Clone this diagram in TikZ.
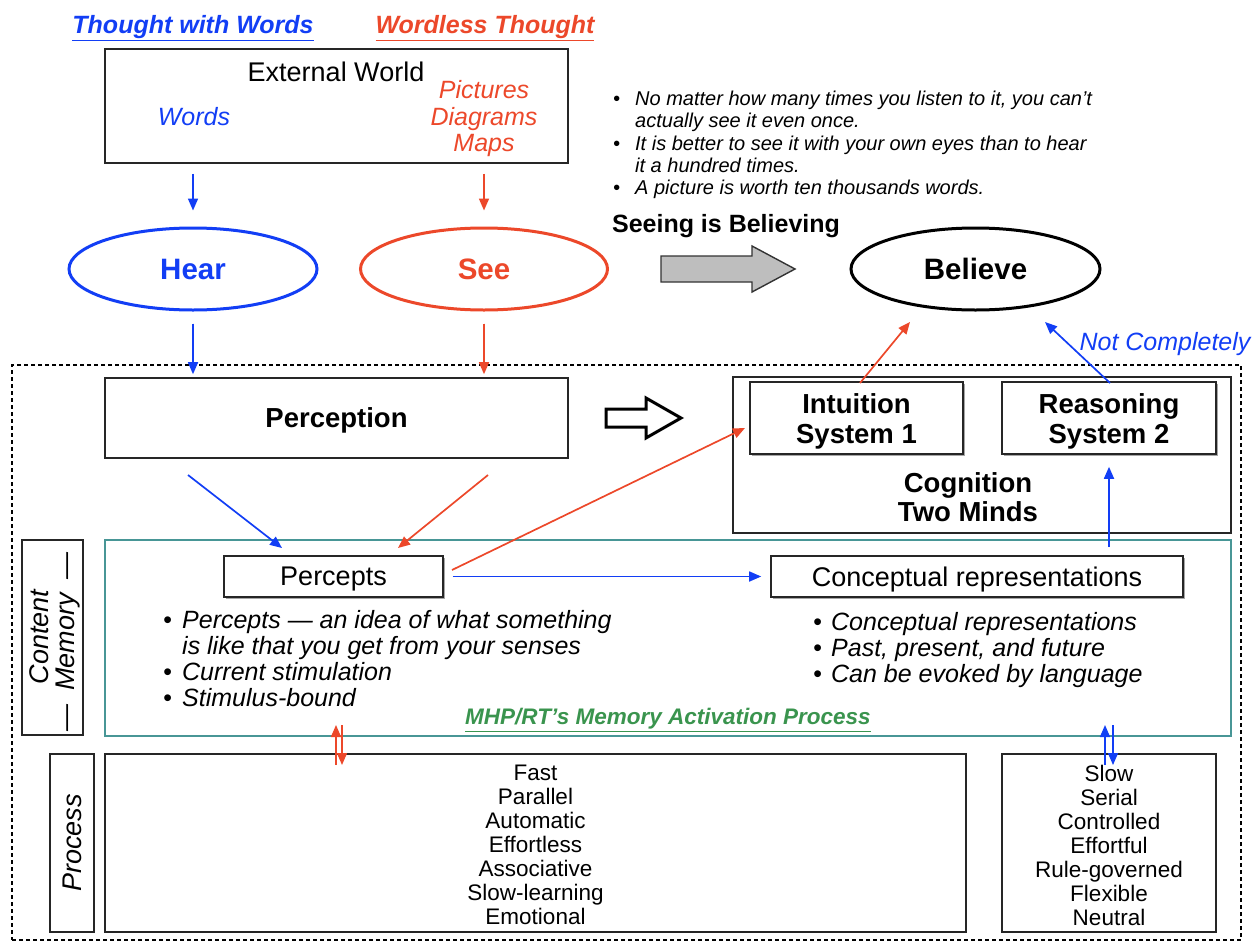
\documentclass[tikz,border=0pt]{standalone}
\usepackage{fontspec}
\setmainfont{Liberation Sans}
\usetikzlibrary{arrows.meta,shapes.geometric,shadows,calc}
\definecolor{tblue}{RGB}{18,62,245}
\definecolor{tred}{RGB}{236,72,42}
\definecolor{tgreen}{RGB}{58,148,78}
\definecolor{tteal}{RGB}{72,150,150}
\definecolor{tgrey}{RGB}{190,190,190}
\newcommand\fs[2]{\fontsize{#1}{#2}\selectfont}
\newcommand\blt{\makebox[19pt][l]{\textbullet}}
\begin{document}
\begin{tikzpicture}[x=1pt,y=-1pt,
  box/.style={draw=black!85,line width=1.6pt,inner sep=0pt},
  sbox/.style={box,drop shadow={shadow xshift=2pt,shadow yshift=-2pt,opacity=0.35,fill=black}},
  oval/.style={ellipse,line width=3pt,inner sep=0pt},
  tip/.style={-{Triangle[length=12pt,width=10pt]}},
  barrow/.style={tip,draw=tblue,fill=tblue,line width=1.7pt},
  rarrow/.style={tip,draw=tred,fill=tred,line width=1.7pt},
  lbl/.style={inner sep=0pt}]
\useasboundingbox (0,0) rectangle (1255,942);

% headings
\node[lbl,text=tblue,font=\fs{25}{29}\bfseries\itshape] (hw) at (193,28) {\underline{Thought with Words}};
\node[lbl,text=tred,font=\fs{25}{29}\bfseries\itshape] (hp) at (485,28) {\underline{Wordless Thought}};

% external world
\node[box,minimum width=463pt,minimum height=114pt] (ext) at (336.5,106) {};
\node[lbl,font=\fs{27}{31}] (extt) at (336,72) {External World};
\node[lbl,text=tblue,font=\fs{25}{26}\itshape] (words) at (194,117) {Words};
\node[lbl,text=tred,align=center,font=\fs{25}{26.5}\itshape] (pics) at (484,119) {Pictures\\Diagrams\\Maps};

% senses
\node[oval,draw=tblue,text=tblue,font=\fs{29.5}{33}\bfseries,minimum width=248pt,minimum height=82pt] (hear) at (193,269) {Hear};
\node[oval,draw=tred,text=tred,font=\fs{29.5}{33}\bfseries,minimum width=247pt,minimum height=82pt] (see) at (484,269) {See};
\node[oval,draw=black,font=\fs{29.5}{33}\bfseries,minimum width=249pt,minimum height=82pt] (believe) at (975.5,269) {Believe};

\draw[barrow,shorten <=10pt,shorten >=16pt] (ext.south -| hear.north) -- (hear.north);
\draw[rarrow,shorten <=10pt,shorten >=16pt] (ext.south -| see.north) -- (see.north);

% proverbs
\node[lbl,anchor=north west,align=left,font=\fs{20}{22.3}\itshape] (prov) at (613,91) {%
  \makebox[22pt][l]{\textbullet}No matter how many times you listen to it, you can't\\
  \hspace*{22pt}actually see it even once.\\
  \makebox[22pt][l]{\textbullet}It is better to see it with your own eyes than to hear\\
  \hspace*{22pt}it a hundred times.\\
  \makebox[22pt][l]{\textbullet}A picture is worth ten thousands words.};
\node[lbl,font=\fs{25}{29}\bfseries] (sib) at (726,226) {Seeing is Believing};

% grey block arrow
\draw[fill=tgrey,draw=black!80,line width=1.4pt] (661,256) -- (752,256) -- (752,246) -- (795,269) -- (752,292) -- (752,282) -- (661,282) -- cycle;

% outer dotted frame
\node[draw,dashed,dash pattern=on 4pt off 3pt,line width=1.4pt,minimum width=1229pt,minimum height=575pt,inner sep=0pt] (frame) at (626.5,652.5) {};

% perception and cognition
\node[box,font=\fs{27.5}{31}\bfseries,text depth=0pt,minimum width=463pt,minimum height=80pt] (perc) at (336.5,418) {Perception};
\draw[barrow,shorten <=12pt,shorten >=3pt] (hear.south) -- (perc.north -| hear.south);
\draw[rarrow,shorten <=12pt,shorten >=3pt] (see.south) -- (perc.north -| see.south);

\draw[fill=white,draw=black,line width=3pt,line join=miter] (606,409) -- (646,409) -- (646,398) -- (681,418) -- (646,438) -- (646,427) -- (606,427) -- cycle;

\node[box,minimum width=498pt,minimum height=156pt] (cog) at (982,455) {};
\node[lbl,align=center,font=\fs{27.5}{29}\bfseries] (cogt) at (968,497) {Cognition\\Two Minds};
\node[sbox,fill=white,minimum width=213pt,minimum height=72pt] (intu) at (856.5,418) {};
\node[lbl,align=center,font=\fs{27.5}{30}\bfseries] (intut) at (856.5,421) {Intuition\\System 1};
\node[sbox,fill=white,minimum width=214pt,minimum height=72pt] (reas) at (1109,418) {};
\node[lbl,align=center,font=\fs{27.5}{30}\bfseries] (reast) at (1109,421) {Reasoning\\System 2};

\coordinate (i1) at (860,383);
\coordinate (b1) at (910,322);
\coordinate (r1) at (1110,383);
\coordinate (b2) at (1045,322);
\draw[rarrow] (i1) -- (b1);
\draw[barrow] (r1) -- (b2);
\node[lbl,text=tblue,font=\fs{25}{29}\itshape] (notc) at (1165,344) {Not Completely};

% memory
\node[draw=tteal,line width=2pt,minimum width=1126pt,minimum height=196pt,inner sep=0pt] (mem) at (668,638) {};
\node[sbox,fill=white,font=\fs{27}{30},text depth=0pt,minimum width=219pt,minimum height=41pt] (pcpt) at (333.5,576.5) {Percepts};
\node[sbox,fill=white,font=\fs{27}{30},text depth=0pt,minimum width=412pt,minimum height=41pt] (conc) at (977,576.5) {Conceptual representations};

\coordinate (p1) at (188,475);
\coordinate (p2) at (282,548);
\coordinate (p3) at (488,475);
\coordinate (p4) at (398,548);
\draw[barrow] (p1) -- (p2);
\draw[rarrow] (p3) -- (p4);
\coordinate (q1) at (452,570);
\coordinate (q2) at (745,428);
\draw[rarrow] (q1) -- (q2);
\draw[barrow,shorten <=9pt,shorten >=9pt] (pcpt.east) -- (conc.west);
\draw[barrow,shorten <=8pt,shorten >=12pt] (conc.north -| reas.south) -- (reas.south);

\node[lbl,anchor=north west,align=left,font=\fs{25}{26}\itshape] (lbul) at (163,610) {%
  \blt Percepts --- an idea of what something\\
  \hspace*{19pt}is like that you get from your senses\\
  \blt Current stimulation\\
  \blt Stimulus-bound};
\node[lbl,anchor=north west,align=left,font=\fs{25}{26}\itshape] (rbul) at (813,612) {%
  \makebox[18pt][l]{\textbullet}Conceptual representations\\
  \makebox[18pt][l]{\textbullet}Past, present, and future\\
  \makebox[18pt][l]{\textbullet}Can be evoked by language};
\node[lbl,text=tgreen,font=\fs{22.5}{26}\bfseries\itshape] (mhp) at (668,720) {\underline{MHP/RT's Memory Activation Process}};

% side labels
\node[box,minimum width=61pt,minimum height=195pt] (cml) at (52.5,637.5) {};
\node[lbl,rotate=90,font=\fs{27}{30}\itshape] (cmt1) at (39,637) {Content};
\node[lbl,rotate=90,font=\fs{27}{30}\itshape] (cmt2) at (68,642) {---\hspace{14pt}Memory\hspace{14pt}---};

% process
\node[box,minimum width=44pt,minimum height=178pt] (prl) at (72,843) {};
\node[lbl,rotate=90,font=\fs{27}{30}\itshape] (prt) at (72,843) {Process};
\node[box,minimum width=861pt,minimum height=178pt] (fast) at (535.5,843) {};
\node[lbl,align=center,font=\fs{22.5}{24}] (fastt) at (535.5,845) {Fast\\Parallel\\Automatic\\Effortless\\Associative\\Slow-learning\\Emotional};
\node[box,minimum width=214pt,minimum height=178pt] (slow) at (1109,843) {};
\node[lbl,align=center,font=\fs{22.5}{24}] (slowt) at (1109,845) {Slow\\Serial\\Controlled\\Effortful\\Rule-governed\\Flexible\\Neutral};

\coordinate (fa) at (336,765);
\coordinate (fb) at (336,725);
\coordinate (fc) at (342,725);
\coordinate (fd) at (342,765);
\draw[rarrow,line width=1.4pt] (fa) -- (fb);
\draw[rarrow,line width=1.4pt] (fc) -- (fd);
\coordinate (sa) at (1105,765);
\coordinate (sb) at (1105,725);
\coordinate (sc) at (1113,725);
\coordinate (sd) at (1113,765);
\draw[barrow,line width=1.4pt] (sa) -- (sb);
\draw[barrow,line width=1.4pt] (sc) -- (sd);
\end{tikzpicture}
\end{document}
